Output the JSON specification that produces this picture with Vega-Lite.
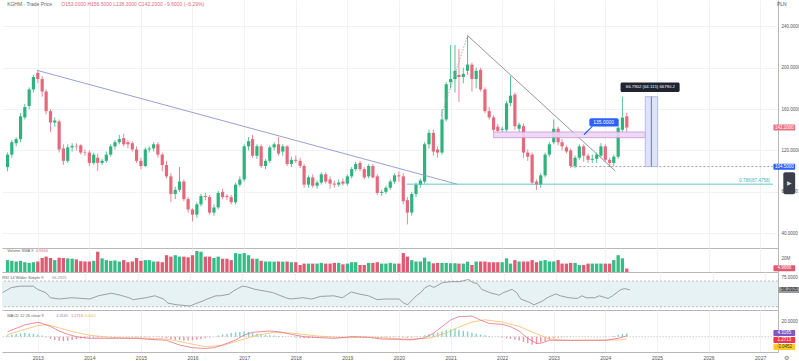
{
"$schema": "https://vega.github.io/schema/vega-lite/v6.json",
"padding": 0,
"spacing": 0,
"background": "white",
"config": {"view": {"stroke": null}, "font": "Liberation Sans", "axis": {"title": null}},
"datasets": {
"candles": [
{"d":"2012-06-01","o":104,"h":118,"l":100,"c":116,"v":17,"hi":2},
{"d":"2012-07-01","o":116,"h":130,"l":113,"c":128,"v":16,"hi":3},
{"d":"2012-08-01","o":127,"h":133,"l":124,"c":131,"v":15,"hi":4},
{"d":"2012-09-01","o":131,"h":156,"l":128,"c":153,"v":16,"hi":4.5},
{"d":"2012-10-01","o":152,"h":165,"l":150,"c":162,"v":14,"hi":5},
{"d":"2012-11-01","o":163,"h":181,"l":160,"c":179,"v":13,"hi":4.5},
{"d":"2012-12-01","o":179,"h":193,"l":176,"c":191,"v":14,"hi":4},
{"d":"2013-01-01","o":195,"h":197.5,"l":185,"c":189,"v":15,"hi":3},
{"d":"2013-02-01","o":189,"h":192,"l":172,"c":177,"v":20,"hi":1.5},
{"d":"2013-03-01","o":177,"h":179,"l":155,"c":158,"v":22,"hi":-1},
{"d":"2013-04-01","o":158,"h":160,"l":138,"c":147,"v":20,"hi":-3},
{"d":"2013-05-01","o":147,"h":152,"l":143,"c":149,"v":17,"hi":-4.5},
{"d":"2013-06-01","o":148,"h":150,"l":118,"c":121,"v":20.5,"hi":-5.5},
{"d":"2013-07-01","o":122,"h":126,"l":106,"c":110,"v":20,"hi":-6},
{"d":"2013-08-01","o":110,"h":126,"l":108,"c":123,"v":19.5,"hi":-5.5},
{"d":"2013-09-01","o":123,"h":127,"l":119,"c":124.5,"v":19,"hi":-4.5},
{"d":"2013-10-01","o":124.5,"h":127,"l":120,"c":124,"v":18,"hi":-3.5},
{"d":"2013-11-01","o":125,"h":126,"l":116,"c":118,"v":15.5,"hi":-2.5},
{"d":"2013-12-01","o":118,"h":121,"l":115,"c":117.5,"v":15,"hi":-2},
{"d":"2014-01-01","o":118,"h":120,"l":105,"c":108,"v":15,"hi":-1.5},
{"d":"2014-02-01","o":108,"h":118,"l":106,"c":116,"v":16,"hi":-1.5},
{"d":"2014-03-01","o":113,"h":117,"l":100,"c":108,"v":29,"hi":-1.2},
{"d":"2014-04-01","o":108,"h":112,"l":106,"c":110,"v":19.5,"hi":-1},
{"d":"2014-05-01","o":110,"h":119,"l":108,"c":116,"v":17,"hi":-0.5},
{"d":"2014-06-01","o":116,"h":126,"l":114,"c":124,"v":16,"hi":-0.3},
{"d":"2014-07-01","o":124,"h":130,"l":121,"c":128,"v":16.5,"hi":0.2},
{"d":"2014-08-01","o":128,"h":135,"l":126,"c":131,"v":15,"hi":0.3},
{"d":"2014-09-01","o":132,"h":136,"l":124,"c":126,"v":17,"hi":0},
{"d":"2014-10-01","o":128,"h":130,"l":122,"c":126,"v":14,"hi":-0.3},
{"d":"2014-11-01","o":127,"h":129,"l":119,"c":121,"v":15,"hi":-0.6},
{"d":"2014-12-01","o":121,"h":124,"l":108,"c":110,"v":20,"hi":-1},
{"d":"2015-01-01","o":110,"h":113,"l":102,"c":105,"v":16,"hi":-1.2},
{"d":"2015-02-01","o":105,"h":123,"l":104,"c":121,"v":17,"hi":-1},
{"d":"2015-03-01","o":121,"h":124,"l":118,"c":122,"v":17,"hi":-0.6},
{"d":"2015-04-01","o":122,"h":128,"l":119,"c":126,"v":15,"hi":-0.4},
{"d":"2015-05-01","o":126,"h":128,"l":113,"c":116,"v":15,"hi":-0.6},
{"d":"2015-06-01","o":116,"h":118,"l":100,"c":106,"v":14,"hi":-1},
{"d":"2015-07-01","o":106,"h":110,"l":93,"c":95,"v":24,"hi":-1.8},
{"d":"2015-08-01","o":95,"h":98,"l":70,"c":78,"v":22,"hi":-3},
{"d":"2015-09-01","o":78,"h":85,"l":73,"c":82,"v":24,"hi":-4},
{"d":"2015-10-01","o":82,"h":104,"l":80,"c":90,"v":22,"hi":-4.5},
{"d":"2015-11-01","o":90,"h":92,"l":71,"c":73,"v":22,"hi":-5},
{"d":"2015-12-01","o":73,"h":75,"l":60,"c":63,"v":21,"hi":-5},
{"d":"2016-01-01","o":63,"h":64,"l":51.6,"c":58,"v":24,"hi":-4.8},
{"d":"2016-02-01","o":58,"h":70,"l":55,"c":68,"v":30,"hi":-4},
{"d":"2016-03-01","o":68,"h":78,"l":66,"c":76,"v":29,"hi":-3},
{"d":"2016-04-01","o":76,"h":79,"l":72,"c":75,"v":22,"hi":-2},
{"d":"2016-05-01","o":75,"h":77,"l":58,"c":60,"v":22,"hi":-1},
{"d":"2016-06-01","o":60,"h":68,"l":57,"c":65,"v":20,"hi":0},
{"d":"2016-07-01","o":65,"h":81,"l":63,"c":79,"v":22,"hi":1.5},
{"d":"2016-08-01","o":80,"h":83,"l":73,"c":75,"v":19,"hi":3},
{"d":"2016-09-01","o":76,"h":78,"l":72,"c":75,"v":19,"hi":4},
{"d":"2016-10-01","o":75,"h":77,"l":68,"c":70,"v":17,"hi":5},
{"d":"2016-11-01","o":70,"h":89,"l":68,"c":87,"v":27,"hi":6},
{"d":"2016-12-01","o":87,"h":95,"l":85,"c":92,"v":26,"hi":6.5},
{"d":"2017-01-01","o":92,"h":126,"l":90,"c":124,"v":27,"hi":7},
{"d":"2017-02-01","o":124,"h":133,"l":120,"c":129,"v":24,"hi":6.5},
{"d":"2017-03-01","o":131,"h":135,"l":113,"c":115,"v":19,"hi":5},
{"d":"2017-04-01","o":115,"h":126,"l":112,"c":124,"v":19,"hi":4},
{"d":"2017-05-01","o":124,"h":126,"l":103,"c":105,"v":16,"hi":3},
{"d":"2017-06-01","o":105,"h":112,"l":102,"c":110,"v":15,"hi":2.5},
{"d":"2017-07-01","o":110,"h":125,"l":108,"c":123,"v":15,"hi":2},
{"d":"2017-08-01","o":123,"h":128,"l":120,"c":126,"v":14.8,"hi":1.5},
{"d":"2017-09-01","o":126,"h":133,"l":115,"c":117,"v":15,"hi":1},
{"d":"2017-10-01","o":119,"h":126,"l":115,"c":124,"v":14.8,"hi":0.5},
{"d":"2017-11-01","o":124,"h":125,"l":105,"c":107,"v":15,"hi":0},
{"d":"2017-12-01","o":107,"h":114,"l":104,"c":111,"v":14,"hi":-0.5},
{"d":"2018-01-01","o":111,"h":115,"l":108,"c":110,"v":14,"hi":-1},
{"d":"2018-02-01","o":110,"h":113,"l":103,"c":105,"v":10,"hi":-1.5},
{"d":"2018-03-01","o":105,"h":107,"l":84,"c":87,"v":12,"hi":-2},
{"d":"2018-04-01","o":87,"h":96,"l":84,"c":94,"v":12,"hi":-2},
{"d":"2018-05-01","o":94,"h":97,"l":84,"c":86,"v":12,"hi":-1.8},
{"d":"2018-06-01","o":86,"h":91,"l":83,"c":89,"v":12,"hi":-1.5},
{"d":"2018-07-01","o":89,"h":99,"l":87,"c":97,"v":13,"hi":-1},
{"d":"2018-08-01","o":97,"h":99,"l":88,"c":90,"v":12,"hi":-0.8},
{"d":"2018-09-01","o":92,"h":95,"l":83,"c":88,"v":12,"hi":-0.5},
{"d":"2018-10-01","o":88,"h":91,"l":84,"c":87,"v":13,"hi":-0.5},
{"d":"2018-11-01","o":87,"h":92,"l":85,"c":89,"v":13,"hi":-0.6},
{"d":"2018-12-01","o":90,"h":93,"l":86,"c":88,"v":11,"hi":-0.5},
{"d":"2019-01-01","o":88,"h":97,"l":86,"c":95,"v":12,"hi":0},
{"d":"2019-02-01","o":95,"h":104,"l":93,"c":102,"v":14,"hi":0.5},
{"d":"2019-03-01","o":102,"h":109,"l":100,"c":107,"v":14,"hi":1},
{"d":"2019-04-01","o":108,"h":110,"l":100,"c":102,"v":10,"hi":1},
{"d":"2019-05-01","o":102,"h":104,"l":92,"c":94,"v":10,"hi":0.5},
{"d":"2019-06-01","o":95,"h":107,"l":93,"c":105,"v":13,"hi":0},
{"d":"2019-07-01","o":105,"h":107,"l":93,"c":94,"v":13,"hi":-0.5},
{"d":"2019-08-01","o":95,"h":97,"l":77,"c":79,"v":14,"hi":-1},
{"d":"2019-09-01","o":79,"h":82,"l":76,"c":80,"v":12,"hi":-1.5},
{"d":"2019-10-01","o":80,"h":86,"l":78,"c":84,"v":12,"hi":-1.2},
{"d":"2019-11-01","o":84,"h":92,"l":82,"c":90,"v":13,"hi":-1},
{"d":"2019-12-01","o":90,"h":98,"l":88,"c":96,"v":12,"hi":-0.8},
{"d":"2020-01-01","o":96,"h":100,"l":90,"c":95,"v":12,"hi":-0.8},
{"d":"2020-02-01","o":95,"h":98,"l":68,"c":71,"v":27,"hi":-1},
{"d":"2020-03-01","o":72,"h":75,"l":48.6,"c":60,"v":22,"hi":-1.5},
{"d":"2020-04-01","o":60,"h":80,"l":57,"c":78,"v":17,"hi":-1},
{"d":"2020-05-01","o":78,"h":89,"l":75,"c":87,"v":15,"hi":-0.5},
{"d":"2020-06-01","o":87,"h":93,"l":84,"c":91,"v":15,"hi":0.5},
{"d":"2020-07-01","o":90,"h":128,"l":88,"c":126,"v":20.5,"hi":2},
{"d":"2020-08-01","o":126,"h":140,"l":122,"c":137,"v":15,"hi":3.5},
{"d":"2020-09-01","o":137,"h":140,"l":115,"c":119,"v":12.4,"hi":4.5},
{"d":"2020-10-01","o":121,"h":124,"l":113,"c":118,"v":13,"hi":5.5},
{"d":"2020-11-01","o":118,"h":160,"l":116,"c":150,"v":13,"hi":7},
{"d":"2020-12-01","o":150,"h":186,"l":148,"c":184,"v":13,"hi":9},
{"d":"2021-01-01","o":186,"h":222,"l":180,"c":189,"v":12.5,"hi":10},
{"d":"2021-02-01","o":189,"h":222,"l":176,"c":197,"v":12.5,"hi":11},
{"d":"2021-03-01","o":193,"h":218,"l":167,"c":191,"v":12,"hi":9.5},
{"d":"2021-04-01","o":191,"h":200,"l":185,"c":194,"v":12,"hi":8},
{"d":"2021-05-01","o":197,"h":231,"l":193,"c":203,"v":14.8,"hi":7},
{"d":"2021-06-01","o":203,"h":205,"l":177,"c":189,"v":10,"hi":5.5},
{"d":"2021-07-01","o":189,"h":200,"l":180,"c":197,"v":15,"hi":4},
{"d":"2021-08-01","o":198,"h":200,"l":177,"c":179,"v":15,"hi":3},
{"d":"2021-09-01","o":179,"h":181,"l":156,"c":158,"v":15,"hi":2},
{"d":"2021-10-01","o":158,"h":162,"l":150,"c":152,"v":14,"hi":1},
{"d":"2021-11-01","o":152,"h":154,"l":138,"c":140,"v":14,"hi":0},
{"d":"2021-12-01","o":143,"h":146,"l":137,"c":139,"v":14,"hi":-0.5},
{"d":"2022-01-01","o":140,"h":143,"l":137,"c":141,"v":14,"hi":-1},
{"d":"2022-02-01","o":140,"h":168,"l":138,"c":165.6,"v":19.5,"hi":-2},
{"d":"2022-03-01","o":166,"h":192,"l":163,"c":173,"v":12,"hi":-3},
{"d":"2022-04-01","o":174,"h":176,"l":140,"c":143.5,"v":17,"hi":-4},
{"d":"2022-05-01","o":141,"h":147,"l":138,"c":145,"v":15,"hi":-5},
{"d":"2022-06-01","o":143.5,"h":146,"l":113,"c":118,"v":15,"hi":-7},
{"d":"2022-07-01","o":118,"h":121,"l":110,"c":114,"v":15,"hi":-9},
{"d":"2022-08-01","o":116,"h":118,"l":87,"c":89,"v":17,"hi":-11},
{"d":"2022-09-01","o":90,"h":92,"l":82,"c":87,"v":14,"hi":-10},
{"d":"2022-10-01","o":87,"h":98,"l":84,"c":96,"v":16,"hi":-8},
{"d":"2022-11-01","o":96,"h":118,"l":94,"c":116,"v":17,"hi":-6},
{"d":"2022-12-01","o":116,"h":128,"l":114,"c":126,"v":15,"hi":-4},
{"d":"2023-01-01","o":128,"h":150,"l":126,"c":141,"v":15,"hi":-2.5},
{"d":"2023-02-01","o":141,"h":143,"l":125,"c":128,"v":17,"hi":-1.5},
{"d":"2023-03-01","o":128,"h":131,"l":120,"c":124,"v":12,"hi":-1},
{"d":"2023-04-01","o":123,"h":125,"l":117,"c":119,"v":12,"hi":-0.5},
{"d":"2023-05-01","o":120,"h":122,"l":103,"c":105,"v":13,"hi":-0.3},
{"d":"2023-06-01","o":105,"h":115,"l":103,"c":113,"v":13,"hi":0},
{"d":"2023-07-01","o":113,"h":126,"l":111,"c":124,"v":10,"hi":0.2},
{"d":"2023-08-01","o":124,"h":126,"l":109,"c":115,"v":10,"hi":0.3},
{"d":"2023-09-01","o":115,"h":117,"l":108,"c":111,"v":12,"hi":0.2},
{"d":"2023-10-01","o":111,"h":116,"l":108,"c":112,"v":12,"hi":0.1},
{"d":"2023-11-01","o":112,"h":118,"l":108,"c":116,"v":12,"hi":0},
{"d":"2023-12-01","o":115,"h":127,"l":113,"c":124,"v":12,"hi":0},
{"d":"2024-01-01","o":124,"h":126,"l":109,"c":111,"v":12,"hi":-0.2},
{"d":"2024-02-01","o":111,"h":113,"l":104,"c":108,"v":12,"hi":0},
{"d":"2024-03-01","o":108,"h":116,"l":105,"c":114,"v":17,"hi":1},
{"d":"2024-04-01","o":114,"h":145,"l":112,"c":142,"v":24,"hi":2.5},
{"d":"2024-05-01","o":140,"h":172,"l":138,"c":151.8,"v":19.5,"hi":3.8},
{"d":"2024-06-01","o":153,"h":156.5,"l":138.3,"c":142.2,"v":5,"hi":4.3}
],
"rsi": [
{"d":"2012-06-01","r":52},{"d":"2012-08-01","r":59.7},{"d":"2012-10-01","r":62},{"d":"2013-01-01","r":62},{"d":"2013-02-01","r":57},{"d":"2013-04-01","r":51.5},{"d":"2013-05-01","r":44},{"d":"2013-07-01","r":42},{"d":"2013-10-01","r":44},{"d":"2013-12-01","r":43},{"d":"2014-02-01","r":42},{"d":"2014-04-01","r":47},{"d":"2014-07-01","r":51},{"d":"2014-09-01","r":48},{"d":"2014-11-01","r":44},{"d":"2014-12-01","r":41},{"d":"2015-03-01","r":44},{"d":"2015-05-01","r":47},{"d":"2015-07-01","r":42},{"d":"2015-08-01","r":35.6},{"d":"2015-10-01","r":33},{"d":"2015-11-01","r":32.5},{"d":"2016-01-01","r":31},{"d":"2016-02-01","r":34},{"d":"2016-04-01","r":39},{"d":"2016-05-01","r":42},{"d":"2016-07-01","r":47},{"d":"2016-08-01","r":47},{"d":"2016-10-01","r":49.5},{"d":"2016-11-01","r":54.6},{"d":"2017-01-01","r":62},{"d":"2017-02-01","r":61},{"d":"2017-04-01","r":57},{"d":"2017-06-01","r":54.6},{"d":"2017-08-01","r":52},{"d":"2017-11-01","r":44},{"d":"2017-12-01","r":42},{"d":"2018-03-01","r":44},{"d":"2018-05-01","r":42},{"d":"2018-07-01","r":46},{"d":"2018-10-01","r":47},{"d":"2018-12-01","r":44},{"d":"2019-02-01","r":53},{"d":"2019-04-01","r":49.5},{"d":"2019-06-01","r":47},{"d":"2019-08-01","r":41},{"d":"2019-10-01","r":42},{"d":"2020-01-01","r":42},{"d":"2020-02-01","r":36},{"d":"2020-03-01","r":33},{"d":"2020-05-01","r":47},{"d":"2020-06-01","r":52},{"d":"2020-07-01","r":59.7},{"d":"2020-08-01","r":63},{"d":"2020-09-01","r":60},{"d":"2020-11-01","r":67.5},{"d":"2021-01-01","r":69},{"d":"2021-03-01","r":69},{"d":"2021-05-01","r":72.5},{"d":"2021-06-01","r":67.5},{"d":"2021-07-01","r":66},{"d":"2021-08-01","r":57},{"d":"2021-10-01","r":51.5},{"d":"2021-12-01","r":48},{"d":"2022-01-01","r":52},{"d":"2022-03-01","r":57},{"d":"2022-04-01","r":52},{"d":"2022-05-01","r":42},{"d":"2022-07-01","r":36.7},{"d":"2022-08-01","r":33},{"d":"2022-10-01","r":39},{"d":"2022-11-01","r":44},{"d":"2023-01-01","r":50},{"d":"2023-02-01","r":47},{"d":"2023-04-01","r":44},{"d":"2023-06-01","r":42.8},{"d":"2023-07-01","r":47},{"d":"2023-08-01","r":44},{"d":"2023-10-01","r":44},{"d":"2023-11-01","r":47},{"d":"2024-01-01","r":42.8},{"d":"2024-02-01","r":47},{"d":"2024-04-01","r":57},{"d":"2024-05-01","r":58},{"d":"2024-06-01","r":56.3}
],
"macd": [
{"d":"2012-06-01","m":6.8},{"d":"2012-08-01","m":11.4},{"d":"2012-10-01","m":16},{"d":"2013-01-01","m":19.6},{"d":"2013-02-01","m":18},{"d":"2013-04-01","m":14},{"d":"2013-06-01","m":7.7},{"d":"2013-08-01","m":3.2},{"d":"2013-10-01","m":0},{"d":"2014-01-01","m":-2.2},{"d":"2014-04-01","m":-2.2},{"d":"2014-08-01","m":-2.2},{"d":"2014-12-01","m":-2.2},{"d":"2015-03-01","m":-3.6},{"d":"2015-07-01","m":-4.9},{"d":"2015-10-01","m":-11.3},{"d":"2016-01-01","m":-15},{"d":"2016-04-01","m":-16},{"d":"2016-06-01","m":-15},{"d":"2016-08-01","m":-11.3},{"d":"2016-11-01","m":-4.5},{"d":"2017-01-01","m":2.3},{"d":"2017-03-01","m":6},{"d":"2017-07-01","m":7.7},{"d":"2017-09-01","m":6.8},{"d":"2017-12-01","m":3.2},{"d":"2018-03-01","m":0},{"d":"2018-07-01","m":-1.4},{"d":"2018-10-01","m":-2.2},{"d":"2019-02-01","m":0},{"d":"2019-06-01","m":-0.9},{"d":"2019-09-01","m":-3.2},{"d":"2020-01-01","m":-3.6},{"d":"2020-02-01","m":-4.2},{"d":"2020-04-01","m":-4.2},{"d":"2020-07-01","m":-1.5},{"d":"2020-09-01","m":4.6},{"d":"2020-11-01","m":13.6},{"d":"2021-01-01","m":22.7},{"d":"2021-03-01","m":27.3},{"d":"2021-06-01","m":28},{"d":"2021-08-01","m":22.7},{"d":"2021-10-01","m":18},{"d":"2022-01-01","m":16.8},{"d":"2022-03-01","m":13.6},{"d":"2022-05-01","m":7.7},{"d":"2022-07-01","m":-2.2},{"d":"2022-09-01","m":-9},{"d":"2022-10-01","m":-9},{"d":"2022-12-01","m":-4.9},{"d":"2023-03-01","m":-4.9},{"d":"2023-08-01","m":-4.9},{"d":"2024-01-01","m":-4.9},{"d":"2024-04-01","m":-2.2},{"d":"2024-06-01","m":1.27}
],
"sig": [
{"d":"2012-06-01","s":3},{"d":"2013-01-01","s":15},{"d":"2013-03-01","s":16.5},{"d":"2013-06-01","s":12},{"d":"2013-09-01","s":7},{"d":"2014-01-01","s":2},{"d":"2014-06-01","s":-1},{"d":"2015-01-01","s":-2},{"d":"2015-07-01","s":-3},{"d":"2015-12-01","s":-9},{"d":"2016-04-01","s":-13.5},{"d":"2016-08-01","s":-12},{"d":"2016-12-01","s":-5},{"d":"2017-04-01","s":2},{"d":"2017-08-01","s":6},{"d":"2017-12-01","s":5},{"d":"2018-06-01","s":1},{"d":"2018-12-01","s":-1.5},{"d":"2019-06-01","s":-0.5},{"d":"2019-12-01","s":-2.5},{"d":"2020-04-01","s":-3.5},{"d":"2020-08-01","s":-2},{"d":"2020-12-01","s":5},{"d":"2021-03-01","s":13},{"d":"2021-06-01","s":20},{"d":"2021-09-01","s":23},{"d":"2022-01-01","s":20},{"d":"2022-05-01","s":14},{"d":"2022-09-01","s":4},{"d":"2022-12-01","s":-3},{"d":"2023-04-01","s":-5},{"d":"2024-04-01","s":-4.5},{"d":"2024-06-01","s":-3.05}
]
},
"vconcat": [
{
"width": 776, "height": 248,
"layer": [
{"data": {"name": "candles"}, "mark": {"type": "rule", "strokeWidth": 0.8, "clip": true},
 "encoding": {
  "x": {"field": "d", "type": "temporal", "scale": {"domain": [{"year":2012,"month":5,"date":28},{"year":2027,"month":4,"date":2}]}, "axis": {"labels": false, "ticks": false, "domain": true, "domainColor": "#b8b8b8", "grid": true, "gridColor": "#f0f2f5", "tickCount": {"interval": "year", "step": 1}}},
  "y": {"field": "l", "type": "quantitative", "scale": {"domain": [25.8, 265.4], "nice": false, "zero": false}, "axis": {"orient": "right", "values": [40,60,80,100,120,140,160,180,200,220,240], "format": ".4f", "labelFontSize": 4.5, "labelColor": "#555", "ticks": false, "labelPadding": 3, "domainColor": "#b8b8b8", "grid": true, "gridColor": "#f0f2f5"}},
  "y2": {"field": "h"},
  "color": {"condition": {"test": "datum.c >= datum.o", "value": "#2fb37e"}, "value": "#e3697c"}
 }},
{"data": {"name": "candles"}, "mark": {"type": "bar", "width": 3.2, "clip": true},
 "encoding": {
  "x": {"field": "d", "type": "temporal"},
  "y": {"field": "o", "type": "quantitative"},
  "y2": {"field": "c"},
  "color": {"condition": {"test": "datum.c >= datum.o", "value": "#2fb37e"}, "value": "#e3697c"}
 }},
{"data": {"values": [{}]}, "mark": {"type": "rule", "color": "#8c96cf", "strokeWidth": 0.9},
 "encoding": {"x": {"datum": {"year":2012,"month":12,"date":25}, "type": "temporal"}, "x2": {"datum": {"year":2021,"month":2,"date":15}}, "y": {"datum": 197.5}, "y2": {"datum": 87.5}}},
{"data": {"values": [{}]}, "mark": {"type": "rule", "color": "#4fc3c3", "strokeWidth": 0.9},
 "encoding": {"x": {"datum": {"year":2020,"month":2,"date":25}, "type": "temporal"}, "x2": {"datum": {"year":2027,"month":4,"date":2}}, "y": {"datum": 87.4758}}},
{"data": {"values": [{}]}, "mark": {"type": "rule", "color": "#8a8a8a", "strokeWidth": 0.9},
 "encoding": {"x": {"datum": {"year":2021,"month":5,"date":1}, "type": "temporal"}, "x2": {"datum": {"year":2024,"month":3,"date":12}}, "y": {"datum": 231}, "y2": {"datum": 100.2}}},
{"data": {"values": [{}]}, "mark": {"type": "rule", "color": "#9a9a9a", "strokeWidth": 0.8, "strokeDash": [1.5, 1.5]},
 "encoding": {"x": {"datum": {"year":2020,"month":10,"date":26}, "type": "temporal"}, "x2": {"datum": {"year":2021,"month":5,"date":1}}, "y": {"datum": 153.3}, "y2": {"datum": 231}}},
{"data": {"values": [{}]}, "mark": {"type": "rect", "fill": "#eed6f5", "stroke": "#cc8ad9", "strokeWidth": 0.8, "opacity": 0.9},
 "encoding": {"x": {"datum": {"year":2021,"month":11,"date":1}, "type": "temporal"}, "x2": {"datum": {"year":2024,"month":10,"date":10}}, "y": {"datum": 132.4}, "y2": {"datum": 137.9}}},
{"data": {"values": [{}]}, "mark": {"type": "rule", "color": "#8d8d8d", "strokeWidth": 0.8, "strokeDash": [2, 2]},
 "encoding": {"x": {"datum": {"year":2023,"month":5,"date":6}, "type": "temporal"}, "x2": {"datum": {"year":2027,"month":4,"date":2}}, "y": {"datum": 104.5}}},
{"data": {"values": [{}]}, "mark": {"type": "rect", "fill": "#dfe2fa", "stroke": "#a7aeea", "strokeWidth": 0.8},
 "encoding": {"x": {"datum": {"year":2024,"month":10,"date":10}, "type": "temporal"}, "x2": {"datum": {"year":2025,"month":1,"date":6}}, "y": {"datum": 104.5}, "y2": {"datum": 172}}},
{"data": {"values": [{}]}, "mark": {"type": "rule", "color": "#5c6bc0", "strokeWidth": 0.9},
 "encoding": {"x": {"datum": {"year":2024,"month":11,"date":22}, "type": "temporal"}, "y": {"datum": 104.5}, "y2": {"datum": 172}}},
{"data": {"values": [{}]}, "mark": {"type": "rect", "fill": "#1f2430", "cornerRadius": 1.5},
 "encoding": {"x": {"datum": {"year":2024,"month":4,"date":18}, "type": "temporal"}, "x2": {"datum": {"year":2025,"month":6,"date":10}}, "y": {"datum": 176.5}, "y2": {"datum": 185.6}}},
{"data": {"values": [{}]}, "mark": {"type": "text", "color": "white", "fontSize": 4.3, "align": "center", "baseline": "middle", "text": "66.7902 (64.115) 66790.2"},
 "encoding": {"x": {"datum": {"year":2024,"month":11,"date":15}, "type": "temporal"}, "y": {"datum": 181}}},
{"data": {"values": [{}]}, "mark": {"type": "rule", "color": "#2962ff", "strokeWidth": 1.2},
 "encoding": {"x": {"datum": {"year":2023,"month":10,"date":1}, "type": "temporal"}, "x2": {"datum": {"year":2023,"month":8,"date":3}}, "y": {"datum": 143.3}, "y2": {"datum": 135.2}}},
{"data": {"values": [{}]}, "mark": {"type": "rect", "fill": "#2962ff", "cornerRadius": 2},
 "encoding": {"x": {"datum": {"year":2023,"month":9,"date":10}, "type": "temporal"}, "x2": {"datum": {"year":2024,"month":4,"date":5}}, "y": {"datum": 143.3}, "y2": {"datum": 151.1}}},
{"data": {"values": [{}]}, "mark": {"type": "text", "color": "white", "fontSize": 5, "align": "center", "baseline": "middle", "text": "135.0000"},
 "encoding": {"x": {"datum": {"year":2023,"month":12,"date":20}, "type": "temporal"}, "y": {"datum": 147.2}}},
{"data": {"values": [{}]}, "mark": {"type": "text", "color": "#3fb8b8", "fontSize": 4.5, "align": "right", "baseline": "middle", "text": "0.786(87.4758)"},
 "encoding": {"x": {"datum": {"year":2027,"month":3,"date":11}, "type": "temporal"}, "y": {"datum": 90.7}}},
{"data": {"values": [{}]}, "mark": {"type": "text", "color": "#666", "fontSize": 5, "align": "left", "baseline": "middle", "text": "KGHM · Trade Price"},
 "encoding": {"x": {"datum": {"year":2012,"month":5,"date":29}, "type": "temporal"}, "y": {"datum": 261.3}}},
{"data": {"values": [{}]}, "mark": {"type": "text", "color": "#e3697c", "fontSize": 5, "align": "left", "baseline": "middle", "text": "O153.0000 H156.5000 L138.3000 C142.2000 −9.6000 (−6.29%)"},
 "encoding": {"x": {"datum": {"year":2013,"month":6,"date":16}, "type": "temporal"}, "y": {"datum": 261.3}}},
{"data": {"values": [{}]}, "mark": {"type": "text", "color": "#555", "fontSize": 5, "align": "left", "baseline": "middle", "text": "PLN"},
 "encoding": {"x": {"datum": {"year":2027,"month":4,"date":30}, "type": "temporal"}, "y": {"datum": 261.3}}},
{"data": {"values": [{}]}, "mark": {"type": "rect", "fill": "#ef6f80", "cornerRadius": 1},
 "encoding": {"x": {"datum": {"year":2027,"month":4,"date":5}, "type": "temporal"}, "x2": {"datum": {"year":2027,"month":9,"date":6}}, "y": {"datum": 139.3}, "y2": {"datum": 145.1}}},
{"data": {"values": [{}]}, "mark": {"type": "text", "color": "white", "fontSize": 4.5, "align": "center", "baseline": "middle", "text": "142.2000"},
 "encoding": {"x": {"datum": {"year":2027,"month":6,"date":21}, "type": "temporal"}, "y": {"datum": 142.2}}},
{"data": {"values": [{}]}, "mark": {"type": "rect", "fill": "#2962ff", "cornerRadius": 1},
 "encoding": {"x": {"datum": {"year":2027,"month":4,"date":5}, "type": "temporal"}, "x2": {"datum": {"year":2027,"month":9,"date":6}}, "y": {"datum": 101.3}, "y2": {"datum": 107.1}}},
{"data": {"values": [{}]}, "mark": {"type": "text", "color": "white", "fontSize": 4.5, "align": "center", "baseline": "middle", "text": "104.5000"},
 "encoding": {"x": {"datum": {"year":2027,"month":6,"date":21}, "type": "temporal"}, "y": {"datum": 104.2}}},
{"data": {"values": [{}]}, "mark": {"type": "rect", "fill": "#3b3f4b", "cornerRadius": 2},
 "encoding": {"x": {"datum": {"year":2027,"month":6,"date":14}, "type": "temporal"}, "x2": {"datum": {"year":2027,"month":9,"date":6}}, "y": {"datum": 77.7}, "y2": {"datum": 98.9}}},
{"data": {"values": [{}]}, "mark": {"type": "text", "color": "#d8d8d8", "fontSize": 6, "align": "center", "baseline": "middle", "text": "▶"},
 "encoding": {"x": {"datum": {"year":2027,"month":7,"date":27}, "type": "temporal"}, "y": {"datum": 88.3}}}
]
},
{
"width": 776, "height": 24,
"layer": [
{"data": {"name": "candles"}, "mark": {"type": "bar", "width": 3.3, "clip": true},
 "encoding": {
  "x": {"field": "d", "type": "temporal", "scale": {"domain": [{"year":2012,"month":5,"date":28},{"year":2027,"month":4,"date":2}]}, "axis": {"labels": false, "ticks": false, "domain": true, "domainColor": "#b8b8b8", "grid": true, "gridColor": "#f0f2f5", "tickCount": {"interval": "year", "step": 1}}},
  "y": {"field": "v", "type": "quantitative", "scale": {"domain": [0, 34.3], "nice": false, "zero": false}, "axis": {"orient": "right", "values": [20], "labelExpr": "'20M'", "labelFontSize": 4.5, "labelColor": "#555", "ticks": false, "labelPadding": 3, "domainColor": "#b8b8b8", "grid": false}},
  "y2": {"datum": 0},
  "color": {"condition": {"test": "datum.c >= datum.o", "value": "#34bd85"}, "value": "#e05a72"}
 }},
{"data": {"values": [{}]}, "mark": {"type": "text", "color": "#666", "fontSize": 4, "align": "left", "baseline": "middle", "text": "Volume SMA 9"},
 "encoding": {"x": {"datum": {"year":2012,"month":5,"date":29}, "type": "temporal"}, "y": {"datum": 30}}},
{"data": {"values": [{}]}, "mark": {"type": "text", "color": "#e3697c", "fontSize": 4, "align": "left", "baseline": "middle", "text": "4.9666"},
 "encoding": {"x": {"datum": {"year":2012,"month":12,"date":17}, "type": "temporal"}, "y": {"datum": 30}}},
{"data": {"values": [{}]}, "mark": {"type": "rect", "fill": "#e05a72", "cornerRadius": 1},
 "encoding": {"x": {"datum": {"year":2027,"month":4,"date":5}, "type": "temporal"}, "x2": {"datum": {"year":2027,"month":9,"date":6}}, "y": {"datum": 1.2}, "y2": {"datum": 9.8}}},
{"data": {"values": [{}]}, "mark": {"type": "text", "color": "white", "fontSize": 4.5, "align": "center", "baseline": "middle", "text": "4.9666"},
 "encoding": {"x": {"datum": {"year":2027,"month":6,"date":21}, "type": "temporal"}, "y": {"datum": 5.5}}}
]
},
{
"width": 776, "height": 38,
"layer": [
{"data": {"values": [{}]}, "mark": {"type": "rect", "fill": "#e6f2f3"},
 "encoding": {
  "x": {"datum": {"year":2012,"month":5,"date":28}, "type": "temporal", "scale": {"domain": [{"year":2012,"month":5,"date":28},{"year":2027,"month":4,"date":2}]}, "axis": {"labels": false, "ticks": false, "domain": true, "domainColor": "#b8b8b8", "grid": true, "gridColor": "#f0f2f5", "tickCount": {"interval": "year", "step": 1}}},
  "x2": {"datum": {"year":2027,"month":4,"date":2}},
  "y": {"datum": 30, "type": "quantitative", "scale": {"domain": [24.9, 84], "nice": false, "zero": false}, "axis": {"orient": "right", "values": [75], "format": ".4f", "labelFontSize": 4.5, "labelColor": "#555", "ticks": false, "labelPadding": 3, "domainColor": "#b8b8b8", "grid": false}},
  "y2": {"datum": 70}
 }},
{"data": {"values": [{"y": 30}, {"y": 70}]}, "mark": {"type": "rule", "color": "#a5a5a5", "strokeWidth": 0.7, "strokeDash": [2, 2]},
 "encoding": {"y": {"field": "y", "type": "quantitative"}}},
{"data": {"name": "rsi"}, "mark": {"type": "line", "color": "#8a8a8a", "strokeWidth": 0.8},
 "encoding": {"x": {"field": "d", "type": "temporal"}, "y": {"field": "r", "type": "quantitative"}}},
{"data": {"values": [{}]}, "mark": {"type": "text", "color": "#666", "fontSize": 4, "align": "left", "baseline": "middle", "text": "RSI 14 Wilder Simple 9"},
 "encoding": {"x": {"datum": {"year":2012,"month":5,"date":29}, "type": "temporal"}, "y": {"datum": 74}}},
{"data": {"values": [{}]}, "mark": {"type": "text", "color": "#888", "fontSize": 4, "align": "left", "baseline": "middle", "text": "56.2925"},
 "encoding": {"x": {"datum": {"year":2013,"month":5,"date":12}, "type": "temporal"}, "y": {"datum": 74}}},
{"data": {"values": [{}]}, "mark": {"type": "rect", "fill": "#9a9a9a", "cornerRadius": 1},
 "encoding": {"x": {"datum": {"year":2027,"month":4,"date":5}, "type": "temporal"}, "x2": {"datum": {"year":2027,"month":9,"date":6}}, "y": {"datum": 51.5}, "y2": {"datum": 60.5}}},
{"data": {"values": [{}]}, "mark": {"type": "text", "color": "#222", "fontSize": 4.5, "align": "center", "baseline": "middle", "text": "56.2925"},
 "encoding": {"x": {"datum": {"year":2027,"month":6,"date":21}, "type": "temporal"}, "y": {"datum": 56}}}
]
},
{
"width": 776, "height": 42,
"layer": [
{"data": {"name": "candles"}, "mark": {"type": "bar", "width": 1.4, "clip": true},
 "encoding": {
  "x": {"field": "d", "type": "temporal", "scale": {"domain": [{"year":2012,"month":5,"date":28},{"year":2027,"month":4,"date":2}]}, "axis": {"labels": true, "ticks": false, "domain": true, "domainColor": "#b8b8b8", "grid": true, "gridColor": "#f0f2f5", "tickCount": {"interval": "year", "step": 1}, "format": "%Y", "labelFontSize": 5, "labelColor": "#555", "labelPadding": 3}},
  "y": {"field": "hi", "type": "quantitative", "scale": {"domain": [-20.8, 36.3], "nice": false, "zero": false}, "axis": {"orient": "right", "values": [20], "format": ".4f", "labelFontSize": 4.5, "labelColor": "#555", "ticks": false, "labelPadding": 3, "domainColor": "#b8b8b8", "grid": false}},
  "y2": {"datum": 0},
  "color": {"condition": {"test": "datum.hi >= 0", "value": "#86d0c6"}, "value": "#f090a0"}
 }},
{"data": {"values": [{}]}, "mark": {"type": "rule", "color": "#b0b0b0", "strokeWidth": 0.6, "strokeDash": [1.5, 1.5]},
 "encoding": {"y": {"datum": 0}}},
{"data": {"name": "sig"}, "mark": {"type": "line", "color": "#f5bd6a", "strokeWidth": 0.8},
 "encoding": {"x": {"field": "d", "type": "temporal"}, "y": {"field": "s", "type": "quantitative"}}},
{"data": {"name": "macd"}, "mark": {"type": "line", "color": "#e3708c", "strokeWidth": 0.8},
 "encoding": {"x": {"field": "d", "type": "temporal"}, "y": {"field": "m", "type": "quantitative"}}},
{"data": {"values": [{}]}, "mark": {"type": "text", "color": "#666", "fontSize": 4, "align": "left", "baseline": "middle", "text": "MACD 12 26 close 9"},
 "encoding": {"x": {"datum": {"year":2012,"month":5,"date":29}, "type": "temporal"}, "y": {"datum": 27.5}}},
{"data": {"values": [{}]}, "mark": {"type": "text", "color": "#8a7fc8", "fontSize": 3.8, "align": "left", "baseline": "middle", "text": "4.3165"},
 "encoding": {"x": {"datum": {"year":2013,"month":5,"date":12}, "type": "temporal"}, "y": {"datum": 27.5}}},
{"data": {"values": [{}]}, "mark": {"type": "text", "color": "#e3697c", "fontSize": 3.8, "align": "left", "baseline": "middle", "text": "1.2713"},
 "encoding": {"x": {"datum": {"year":2013,"month":8,"date":25}, "type": "temporal"}, "y": {"datum": 27.5}}},
{"data": {"values": [{}]}, "mark": {"type": "text", "color": "#e8c14a", "fontSize": 3.8, "align": "left", "baseline": "middle", "text": "-3.0452"},
 "encoding": {"x": {"datum": {"year":2013,"month":11,"date":18}, "type": "temporal"}, "y": {"datum": 27.5}}},
{"data": {"values": [{}]}, "mark": {"type": "rect", "fill": "#7e57c2", "cornerRadius": 1},
 "encoding": {"x": {"datum": {"year":2027,"month":4,"date":5}, "type": "temporal"}, "x2": {"datum": {"year":2027,"month":9,"date":6}}, "y": {"datum": 1.0}, "y2": {"datum": 9.1}}},
{"data": {"values": [{}]}, "mark": {"type": "text", "color": "white", "fontSize": 4.5, "align": "center", "baseline": "middle", "text": "4.3165"},
 "encoding": {"x": {"datum": {"year":2027,"month":6,"date":21}, "type": "temporal"}, "y": {"datum": 5.05}}},
{"data": {"values": [{}]}, "mark": {"type": "rect", "fill": "#f23645", "cornerRadius": 1},
 "encoding": {"x": {"datum": {"year":2027,"month":4,"date":5}, "type": "temporal"}, "x2": {"datum": {"year":2027,"month":9,"date":6}}, "y": {"datum": -8.6}, "y2": {"datum": -0.4}}},
{"data": {"values": [{}]}, "mark": {"type": "text", "color": "white", "fontSize": 4.5, "align": "center", "baseline": "middle", "text": "1.2713"},
 "encoding": {"x": {"datum": {"year":2027,"month":6,"date":21}, "type": "temporal"}, "y": {"datum": -4.5}}},
{"data": {"values": [{}]}, "mark": {"type": "rect", "fill": "#ffca28", "cornerRadius": 1},
 "encoding": {"x": {"datum": {"year":2027,"month":4,"date":5}, "type": "temporal"}, "x2": {"datum": {"year":2027,"month":9,"date":6}}, "y": {"datum": -18.1}, "y2": {"datum": -10}}},
{"data": {"values": [{}]}, "mark": {"type": "text", "color": "#333", "fontSize": 4.5, "align": "center", "baseline": "middle", "text": "-3.0452"},
 "encoding": {"x": {"datum": {"year":2027,"month":6,"date":21}, "type": "temporal"}, "y": {"datum": -14}}},
{"data": {"values": [{}]}, "mark": {"type": "text", "color": "#777", "fontSize": 6, "align": "center", "baseline": "middle", "text": "⚙"},
 "encoding": {"x": {"datum": {"year":2027,"month":7,"date":9}, "type": "temporal"}, "y": {"datum": -29}}}
]
}
]
}
